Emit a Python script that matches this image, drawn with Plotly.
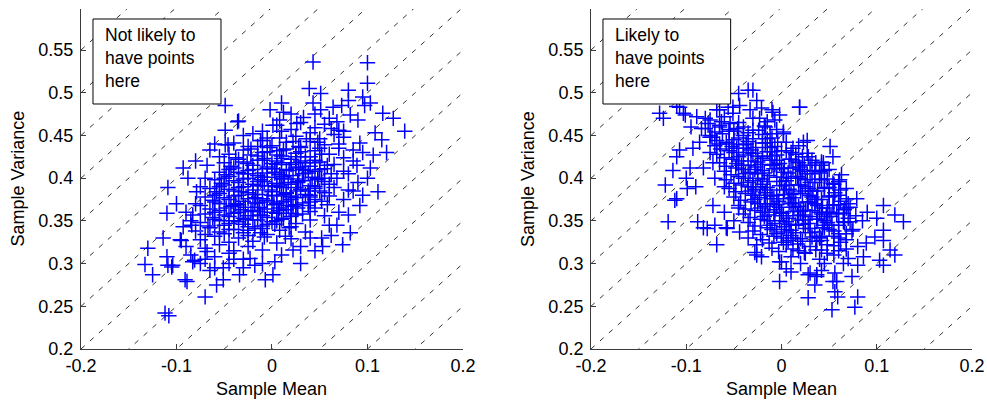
import plotly.graph_objects as go

# ---------------- data ----------------
# Left panel ("Not likely to have points here"): positive correlation
left_core_mean = [0.005,0.02,0.03,0.045,0.055,0.07,
 -0.02,-0.005,0.01,0.025,0.04,0.05,0.065,0.075,
 -0.04,-0.025,-0.01,0.0,0.015,0.03,0.04,0.055,0.07,
 -0.045,-0.03,-0.015,-0.005,0.005,0.015,0.025,0.035,0.045,0.06,0.075,
 -0.05,-0.035,-0.02,-0.01,0.0,0.01,0.02,0.03,0.04,0.05,0.065,
 -0.055,-0.04,-0.03,-0.02,-0.01,0.0,0.008,0.018,0.028,0.038,0.05,0.062,0.075,
 -0.06,-0.045,-0.035,-0.025,-0.015,-0.005,0.005,0.013,0.022,0.032,0.042,0.055,0.068,
 -0.065,-0.05,-0.04,-0.03,-0.02,-0.01,0.0,0.01,0.02,0.03,0.04,0.05,0.065,0.08,
 -0.07,-0.055,-0.045,-0.035,-0.025,-0.015,-0.005,0.005,0.015,0.025,0.035,0.045,0.06,
 -0.075,-0.06,-0.048,-0.038,-0.028,-0.018,-0.008,0.002,0.012,0.022,0.032,0.045,0.058,
 -0.07,-0.055,-0.045,-0.035,-0.025,-0.015,-0.005,0.005,0.015,0.025,0.04,0.055,
 -0.075,-0.06,-0.05,-0.04,-0.03,-0.02,-0.01,0.0,0.012,0.025,0.04,
 -0.08,-0.065,-0.05,-0.04,-0.03,-0.018,-0.005,0.008,0.02,0.035,
 -0.075,-0.06,-0.045,-0.035,-0.02,-0.008,0.005,0.02,
 -0.07,-0.055,-0.04,-0.025,-0.01,
 -0.06,-0.045,-0.03,
 -0.025,-0.012,0.003,0.017,0.032,-0.032,-0.017,0.0,0.012,0.027,0.038,-0.04,-0.022,-0.005,0.008,0.02,-0.028,-0.012,0.003,0.017,0.01,0.025,-0.015,0.045,0.052]
left_core_var = [0.462,0.457,0.465,0.459,0.463,0.456,
 0.452,0.447,0.455,0.449,0.453,0.446,0.451,0.448,
 0.441,0.437,0.444,0.438,0.442,0.436,0.443,0.439,0.435,
 0.428,0.433,0.426,0.431,0.427,0.434,0.429,0.425,0.432,0.428,0.424,
 0.418,0.422,0.415,0.421,0.417,0.423,0.416,0.42,0.414,0.419,0.416,
 0.407,0.412,0.405,0.41,0.406,0.411,0.404,0.409,0.413,0.406,0.41,0.405,0.408,
 0.398,0.402,0.395,0.4,0.396,0.401,0.394,0.399,0.403,0.397,0.401,0.396,0.4,
 0.388,0.392,0.385,0.39,0.386,0.391,0.384,0.389,0.393,0.387,0.391,0.385,0.389,0.386,
 0.378,0.382,0.375,0.38,0.376,0.381,0.374,0.379,0.383,0.377,0.381,0.375,0.379,
 0.368,0.372,0.365,0.37,0.366,0.371,0.364,0.369,0.373,0.367,0.371,0.365,0.369,
 0.358,0.362,0.355,0.36,0.356,0.361,0.354,0.359,0.363,0.357,0.361,0.356,
 0.348,0.352,0.345,0.35,0.346,0.351,0.344,0.349,0.353,0.347,0.351,
 0.338,0.342,0.335,0.34,0.336,0.341,0.334,0.339,0.343,0.337,
 0.328,0.332,0.325,0.33,0.326,0.331,0.324,0.329,
 0.318,0.322,0.315,0.32,0.316,
 0.308,0.312,0.305,
 0.405,0.398,0.407,0.395,0.41,0.384,0.377,0.391,0.381,0.396,0.385,0.368,0.362,0.372,0.365,0.378,0.352,0.357,0.346,0.368,0.418,0.425,0.437,0.418,0.4]
left_dense_mean = [-0.012,0.008,0.022,0.036,0.048,
 -0.022,-0.002,0.012,0.028,0.05,
 -0.038,-0.022,-0.008,0.01,0.02,0.04,0.052,
 -0.043,-0.026,-0.005,0.005,0.025,0.035,0.058,
 -0.048,-0.035,-0.015,0.003,0.012,0.033,0.045,
 -0.053,-0.04,-0.02,-0.008,0.008,0.027,0.048,0.06,
 -0.058,-0.045,-0.025,-0.004,0.015,0.026,0.045,0.055,
 -0.062,-0.05,-0.03,-0.01,0.01,0.02,0.04,0.052,
 -0.065,-0.043,-0.033,-0.013,0.007,0.027,0.038,
 -0.062,-0.05,-0.03,-0.01,0.01,0.02,0.032,
 -0.067,-0.045,-0.025,-0.005,0.018,
 -0.07,-0.055,-0.025,-0.012,0.014,
 -0.01,0.008,0.03,
 -0.03,-0.015,0.005,0.025,0.045,
 -0.045,-0.025,-0.005,0.015,0.035,0.055,
 -0.05,-0.03,-0.01,0.01,0.028,0.048,
 -0.055,-0.035,-0.015,0.005,0.025,0.045,
 -0.06,-0.04,-0.02,0.0,0.02,0.04,
 -0.055,-0.035,-0.015,0.005,0.025,0.04,
 -0.06,-0.04,-0.02,0.0,0.02,
 -0.055,-0.035,-0.015,0.005,
 -0.045,-0.025,-0.01]
left_dense_var = [0.444,0.447,0.443,0.446,0.442,
 0.434,0.436,0.433,0.437,0.435,
 0.424,0.427,0.423,0.426,0.422,0.425,0.428,
 0.414,0.417,0.413,0.416,0.412,0.418,0.415,
 0.404,0.407,0.403,0.406,0.402,0.405,0.408,
 0.394,0.397,0.393,0.396,0.392,0.395,0.398,0.393,
 0.384,0.387,0.383,0.386,0.382,0.385,0.388,0.383,
 0.374,0.377,0.373,0.376,0.372,0.375,0.378,0.373,
 0.364,0.367,0.363,0.366,0.362,0.365,0.368,
 0.354,0.357,0.353,0.356,0.352,0.355,0.358,
 0.344,0.347,0.343,0.346,0.342,
 0.334,0.337,0.333,0.336,0.332,
 0.430,0.432,0.431,
 0.419,0.421,0.42,0.418,0.421,
 0.41,0.409,0.411,0.41,0.409,0.411,
 0.40,0.399,0.401,0.4,0.399,0.4,
 0.39,0.389,0.391,0.39,0.389,0.39,
 0.38,0.379,0.381,0.38,0.379,0.38,
 0.37,0.369,0.371,0.37,0.369,0.372,
 0.36,0.359,0.361,0.36,0.359,
 0.35,0.349,0.351,0.35,
 0.34,0.339,0.341]
left_outer_mean = [0.043,0.100,0.100,0.039,0.051,0.080,0.080,0.043,0.051,0.064,0.073,0.095,0.097,0.103,0.116,0.127,0.139,0.010,-0.002,0.012,-0.049,-0.035,-0.049,-0.049,-0.065,-0.068,-0.093,-0.088,-0.046,0.106,0.089,0.103,0.085,0.092,0.108,0.090,0.082,0.068,0.062,0.033,0.026,0.001,0.008,
 -0.108,-0.070,-0.133,-0.125,-0.110,-0.130,-0.114,-0.109,-0.105,-0.093,-0.083,-0.089,-0.058,-0.051,-0.034,-0.030,-0.007,0.001,0.003,0.022,0.053,0.062,0.074,0.082,0.080,0.092,0.111,0.095,0.068,0.052,-0.079,-0.083,-0.095,-0.023,-0.018,-0.051,-0.065,-0.068,
 -0.036,-0.109,-0.112,-0.091,-0.081,-0.104,-0.110,-0.096,-0.084,
 -0.1,-0.09,-0.085,-0.08,-0.09,-0.085,-0.075,-0.07,-0.06,-0.045,-0.04,0.03,0.04,0.045,0.06,0.07,0.075,0.085,0.09,0.08,0.085,0.095,0.07,0.075,0.06,0.045,0.02,-0.01,-0.03,-0.055,-0.07,-0.075,-0.08,-0.06,0.115,0.12,0.1,0.03,0.01,-0.01]
left_outer_var = [0.536,0.535,0.511,0.505,0.499,0.503,0.491,0.488,0.480,0.483,0.485,0.495,0.485,0.488,0.476,0.470,0.455,0.488,0.480,0.477,0.485,0.467,0.456,0.439,0.433,0.415,0.412,0.400,0.439,0.427,0.415,0.412,0.433,0.441,0.453,0.468,0.474,0.466,0.458,0.471,0.464,0.462,0.468,
 0.239,0.261,0.299,0.287,0.359,0.318,0.330,0.298,0.296,0.343,0.302,0.279,0.275,0.281,0.287,0.295,0.281,0.287,0.302,0.316,0.320,0.333,0.322,0.336,0.357,0.368,0.384,0.380,0.345,0.330,0.384,0.357,0.327,0.306,0.298,0.295,0.292,0.314,
 0.466,0.389,0.242,0.281,0.304,0.298,0.308,0.328,0.345,
 0.37,0.36,0.35,0.37,0.32,0.31,0.30,0.305,0.295,0.3,0.305,0.32,0.33,0.315,0.345,0.36,0.375,0.385,0.395,0.405,0.42,0.43,0.44,0.455,0.47,0.475,0.475,0.455,0.45,0.425,0.4,0.39,0.42,0.44,0.445,0.43,0.4,0.3,0.31,0.3]

# Right panel ("Likely to have points here"): negative correlation
right_core_mean = [-0.075,-0.06,-0.045,-0.03,-0.015,
 -0.08,-0.065,-0.05,-0.04,-0.03,-0.018,-0.005,
 -0.075,-0.062,-0.05,-0.04,-0.03,-0.02,-0.01,0.002,
 -0.07,-0.058,-0.047,-0.037,-0.027,-0.017,-0.007,0.005,0.018,
 -0.068,-0.055,-0.045,-0.035,-0.025,-0.015,-0.005,0.005,0.015,0.028,
 -0.065,-0.052,-0.042,-0.032,-0.022,-0.012,-0.002,0.008,0.018,0.03,0.042,
 -0.06,-0.048,-0.038,-0.028,-0.018,-0.008,0.002,0.012,0.022,0.032,0.045,
 -0.058,-0.045,-0.035,-0.025,-0.015,-0.005,0.005,0.015,0.025,0.035,0.048,0.06,
 -0.055,-0.042,-0.032,-0.022,-0.012,-0.002,0.008,0.018,0.028,0.038,0.05,0.062,
 -0.05,-0.038,-0.028,-0.018,-0.008,0.002,0.012,0.022,0.032,0.042,0.055,0.068,
 -0.045,-0.032,-0.022,-0.012,-0.002,0.008,0.018,0.028,0.038,0.048,0.06,0.072,
 -0.04,-0.028,-0.018,-0.008,0.002,0.012,0.022,0.032,0.042,0.052,0.065,0.078,
 -0.035,-0.022,-0.012,-0.002,0.008,0.018,0.028,0.038,0.048,0.06,0.072,
 -0.03,-0.015,-0.005,0.005,0.015,0.025,0.035,0.045,0.055,0.068,
 -0.02,-0.008,0.002,0.012,0.022,0.032,0.042,0.055,0.068,
 -0.01,0.005,0.018,0.03,0.042,0.055,0.068,
 0.01,0.025,0.04,0.055,0.07,
 -0.025,-0.01,0.005,0.02,0.035,-0.03,-0.015,0.0,0.015,0.03,-0.02,-0.035,0.01,0.025,0.045,0.04,-0.005,0.01,-0.04,0.05]
right_core_var = [0.468,0.472,0.465,0.47,0.466,
 0.458,0.462,0.455,0.46,0.456,0.461,0.457,
 0.448,0.452,0.445,0.45,0.446,0.451,0.447,0.452,
 0.438,0.442,0.435,0.44,0.436,0.441,0.437,0.442,0.438,
 0.428,0.432,0.425,0.43,0.426,0.431,0.427,0.432,0.428,0.425,
 0.418,0.422,0.415,0.42,0.416,0.421,0.417,0.422,0.418,0.415,0.419,
 0.408,0.412,0.405,0.41,0.406,0.411,0.407,0.412,0.408,0.405,0.409,
 0.398,0.402,0.395,0.4,0.396,0.401,0.397,0.402,0.398,0.395,0.399,0.396,
 0.388,0.392,0.385,0.39,0.386,0.391,0.387,0.392,0.388,0.385,0.389,0.386,
 0.378,0.382,0.375,0.38,0.376,0.381,0.377,0.382,0.378,0.375,0.379,0.376,
 0.368,0.372,0.365,0.37,0.366,0.371,0.367,0.372,0.368,0.365,0.369,0.366,
 0.358,0.362,0.355,0.36,0.356,0.361,0.357,0.362,0.358,0.355,0.359,0.356,
 0.348,0.352,0.345,0.35,0.346,0.351,0.347,0.352,0.348,0.345,0.349,
 0.338,0.342,0.335,0.34,0.336,0.341,0.337,0.342,0.338,0.335,
 0.328,0.332,0.325,0.33,0.326,0.331,0.327,0.332,0.328,
 0.318,0.322,0.315,0.32,0.316,0.321,0.317,
 0.308,0.312,0.305,0.31,0.306,
 0.405,0.415,0.392,0.385,0.37,0.39,0.37,0.36,0.345,0.355,0.425,0.415,0.4,0.362,0.345,0.33,0.38,0.37,0.435,0.36]
right_dense_mean = [-0.07,-0.055,-0.035,-0.024,-0.012,
 -0.068,-0.045,-0.035,-0.015,-0.004,
 -0.064,-0.052,-0.032,-0.012,0.0,0.012,
 -0.06,-0.04,-0.02,-0.01,0.01,0.022,
 -0.058,-0.047,-0.027,-0.007,0.003,0.024,0.036,
 -0.053,-0.033,-0.013,0.007,0.017,0.027,0.04,
 -0.05,-0.03,-0.02,0.0,0.02,0.03,0.042,0.055,
 -0.048,-0.027,-0.017,0.003,0.013,0.033,0.045,0.056,
 -0.043,-0.023,-0.003,0.007,0.027,0.037,0.05,0.062,
 -0.038,-0.017,-0.007,0.013,0.023,0.043,0.054,0.066,
 -0.033,-0.013,0.007,0.017,0.037,0.047,0.058,0.07,
 -0.028,-0.007,0.003,0.023,0.043,0.053,0.066,
 -0.022,0.0,0.01,0.03,0.04,0.06,0.074,
 -0.013,0.007,0.017,0.037,0.048,0.062,
 -0.003,0.012,0.024,0.036,0.048,0.06,
 -0.055,-0.04,-0.02,
 -0.05,-0.03,-0.01,0.01,
 -0.045,-0.025,-0.005,0.015,
 -0.04,-0.02,0.0,0.02,0.035,
 -0.04,-0.02,0.0,0.02,0.04,
 -0.035,-0.015,0.005,0.025,0.045,
 -0.03,-0.01,0.01,0.03,0.05,
 -0.025,-0.005,0.015,0.035,0.055,
 -0.02,0.0,0.02,0.04,0.06,
 -0.015,0.005,0.025,0.045,0.065,
 -0.01,0.01,0.03,0.05,
 0.0,0.02,0.04,0.06]
right_dense_var = [0.454,0.457,0.453,0.456,0.452,
 0.444,0.447,0.443,0.446,0.442,
 0.434,0.437,0.433,0.436,0.432,0.435,
 0.424,0.427,0.423,0.426,0.422,0.425,
 0.414,0.417,0.413,0.416,0.412,0.415,0.418,
 0.404,0.407,0.403,0.406,0.402,0.405,0.408,
 0.394,0.397,0.393,0.396,0.392,0.395,0.398,0.393,
 0.384,0.387,0.383,0.386,0.382,0.385,0.388,0.383,
 0.374,0.377,0.373,0.376,0.372,0.375,0.378,0.373,
 0.364,0.367,0.363,0.366,0.362,0.365,0.368,0.363,
 0.354,0.357,0.353,0.356,0.352,0.355,0.358,0.353,
 0.344,0.347,0.343,0.346,0.342,0.345,0.348,
 0.334,0.337,0.333,0.336,0.332,0.335,0.338,
 0.324,0.327,0.323,0.326,0.322,0.325,
 0.314,0.317,0.313,0.316,0.312,0.315,
 0.44,0.439,0.441,
 0.43,0.429,0.431,0.43,
 0.42,0.419,0.421,0.42,
 0.41,0.409,0.411,0.41,0.409,
 0.40,0.399,0.401,0.4,0.399,
 0.39,0.389,0.391,0.39,0.389,
 0.38,0.379,0.381,0.38,0.379,
 0.37,0.369,0.371,0.37,0.369,
 0.36,0.359,0.361,0.36,0.359,
 0.35,0.349,0.351,0.35,0.349,
 0.34,0.339,0.341,0.34,
 0.33,0.329,0.331,0.33]
right_outer_mean = [-0.030,-0.045,-0.026,0.019,-0.044,-0.033,-0.056,-0.068,-0.051,-0.010,-0.002,-0.007,-0.023,-0.128,-0.124,-0.103,-0.089,-0.077,-0.084,-0.063,-0.054,-0.046,-0.073,-0.086,-0.093,-0.107,-0.110,-0.114,-0.122,-0.099,-0.096,-0.082,0.002,0.023,0.051,0.054,0.042,0.032,0.063,0.068,0.054,
 -0.110,-0.119,-0.088,-0.082,-0.070,-0.068,-0.058,-0.044,-0.026,-0.026,-0.021,-0.002,0.005,-0.002,0.028,0.037,0.028,0.054,0.056,0.059,0.053,0.077,0.080,0.074,0.056,0.042,0.080,0.107,0.107,0.100,0.119,0.128,0.107,0.098,0.107,0.114,0.119,0.103,0.089,0.086,0.079,0.068,
 -0.107,-0.101,-0.075,-0.065,-0.035,-0.065,-0.051,-0.110,-0.072,-0.078,-0.057,-0.072,-0.112,
 -0.021,-0.009,0.019,-0.017,0.027,0.044,0.040,0.027,0.061,0.019,0.058,0.037,0.030,0.000,-0.028,
 -0.06,-0.07,-0.075,-0.065,-0.055,-0.08,-0.095,-0.06,-0.05,-0.045,-0.035,0.075,0.085,0.09,0.08,0.065,0.045,0.02,0.01,0.035,0.06,0.07,0.05,-0.1,-0.09]
right_outer_var = [0.503,0.499,0.491,0.483,0.485,0.480,0.483,0.480,0.476,0.480,0.474,0.468,0.470,0.476,0.470,0.476,0.472,0.464,0.458,0.466,0.464,0.458,0.448,0.442,0.435,0.433,0.425,0.409,0.392,0.388,0.412,0.412,0.454,0.442,0.437,0.425,0.415,0.421,0.404,0.388,0.394,
 0.376,0.349,0.349,0.342,0.345,0.322,0.342,0.337,0.322,0.310,0.308,0.302,0.294,0.279,0.287,0.285,0.260,0.279,0.267,0.261,0.246,0.249,0.261,0.285,0.289,0.292,0.298,0.298,0.368,0.353,0.357,0.349,0.339,0.331,0.327,0.316,0.310,0.304,0.324,0.308,0.376,0.365,
 0.483,0.474,0.450,0.460,0.503,0.480,0.483,0.484,0.418,0.341,0.341,0.368,0.374,
 0.482,0.477,0.483,0.460,0.444,0.418,0.406,0.429,0.398,0.413,0.279,0.287,0.289,0.302,0.313,
 0.39,0.4,0.43,0.44,0.455,0.47,0.46,0.36,0.35,0.365,0.33,0.34,0.35,0.36,0.32,0.3,0.3,0.3,0.29,0.275,0.38,0.37,0.41,0.4,0.39]

diag_offsets = [0.0, 0.05, 0.1, 0.15, 0.2, 0.25, 0.3, 0.35, 0.4,
                0.45, 0.5, 0.55, 0.6, 0.65, 0.7, 0.75, 0.8]
x_ticks = [-0.2, -0.1, 0, 0.1, 0.2]
x_ticktext = ["-0.2", "-0.1", "0", "0.1", "0.2"]
y_ticks = [0.2, 0.25, 0.3, 0.35, 0.4, 0.45, 0.5, 0.55]
y_ticktext = ["0.2", "0.25", "0.3", "0.35", "0.4", "0.45", "0.5", "0.55"]
box_texts = ["Not likely to<br>have points<br>here", "Likely to<br>have points<br>here"]
x_title = "Sample Mean"
y_title = "Sample Variance"

# ---------------- figure ----------------
FONT = "Liberation Sans, Arial, Helvetica, sans-serif"
FS = 18
W, H = 987, 404
ML, MR, MT, MB = 81, 15, 9, 55
fig = go.Figure()

panels = [
    ("x", "y", left_core_mean + left_dense_mean + left_outer_mean,
     left_core_var + left_dense_var + left_outer_var),
    ("x2", "y2", right_core_mean + right_dense_mean + right_outer_mean,
     right_core_var + right_dense_var + right_outer_var),
]

for xa, ya, xs, ys in panels:
    for c in diag_offsets:
        fig.add_trace(go.Scatter(
            x=[-0.2, 0.2], y=[-0.2 + c, 0.2 + c], xaxis=xa, yaxis=ya,
            mode="lines", line=dict(color="black", width=0.8, dash="5px,7px"),
            hoverinfo="skip", showlegend=False))
    fig.add_trace(go.Scatter(
        x=xs, y=ys, xaxis=xa, yaxis=ya, mode="markers",
        marker=dict(symbol="cross-thin", size=11, color="#0000ff",
                    line=dict(color="#0000ff", width=1.5)),
        hoverinfo="skip", showlegend=False))

axis_common = dict(showline=True, linecolor="#3c3c3c", linewidth=1,
                   ticks="inside", ticklen=5, tickcolor="#3c3c3c",
                   showgrid=False, zeroline=False, mirror=False, automargin=False,
                   fixedrange=True,
                   tickfont=dict(family=FONT, size=FS, color="black"))

xdom = [[0, 0.4287], [0.5724, 1]]
for i, (xk, yk) in enumerate([("xaxis", "yaxis"), ("xaxis2", "yaxis2")]):
    anchor_x = "y" if i == 0 else "y2"
    anchor_y = "x" if i == 0 else "x2"
    fig.layout[xk] = dict(axis_common, domain=xdom[i], anchor=anchor_x,
                          range=[-0.2, 0.2], tickvals=x_ticks, ticktext=x_ticktext)
    fig.layout[yk] = dict(axis_common, domain=[0, 1], anchor=anchor_y,
                          range=[0.2, 0.598], tickvals=y_ticks, ticktext=y_ticktext,
                          ticklabelstandoff=3)

pw = W - ML - MR
for i, txt in enumerate(box_texts):
    xr = "x domain" if i == 0 else "x2 domain"
    yr = "y domain" if i == 0 else "y2 domain"
    fig.add_shape(type="rect", xref=xr, yref=yr, x0=0.0314, x1=0.3665,
                  y0=0.7206, y1=0.9706, line=dict(color="black", width=1),
                  fillcolor="white", layer="above")
    fig.add_annotation(xref=xr, yref=yr, x=0.058, y=0.96, xanchor="left",
                       yanchor="top", text=txt, showarrow=False, align="left",
                       font=dict(family=FONT, size=17.5, color="black"))
    # axis titles
    d0, d1 = xdom[i]
    fig.add_annotation(xref="paper", yref="paper", x=(d0 + d1) / 2, y=-(389 - (H - MB)) / (H - MT - MB),
                       text=x_title, showarrow=False, xanchor="center", yanchor="middle",
                       font=dict(family=FONT, size=FS, color="black"))
    fig.add_annotation(xref="paper", yref="paper", x=d0 - (ML + d0 * pw - (17.5 if i == 0 else 528)) / pw,
                       y=0.5, text=y_title, showarrow=False, textangle=-90,
                       xanchor="center", yanchor="middle",
                       font=dict(family=FONT, size=FS, color="black"))

fig.update_layout(width=W, height=H, margin=dict(l=ML, r=MR, t=MT, b=MB),
                  paper_bgcolor="white", plot_bgcolor="white", showlegend=False,
                  hovermode=False)

fig.write_html("out.html", config={"displayModeBar": False},
               post_script="document.body.style.margin='0px';document.body.style.overflow='hidden';")
